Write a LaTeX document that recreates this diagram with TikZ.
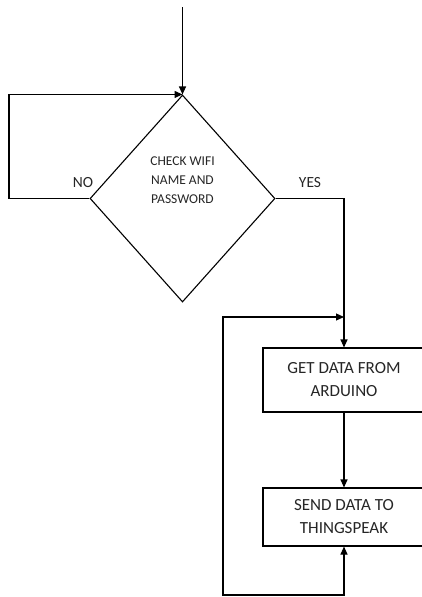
\documentclass[tikz,border=0pt]{standalone}
\usepackage{fontspec}
\setmainfont{Carlito}
\usetikzlibrary{shapes.geometric,arrows.meta}
\begin{document}
\begin{tikzpicture}[x = 1pt, y = -1pt, > = {Triangle[length = 8pt, width = 7pt]},
    flow/.style = {line width = 1.1pt, ->},
    procbox/.style = {draw, line width = 1.1pt, minimum width = 162pt, minimum height = 64pt, align = center,
      font = \fontsize{17}{23}\selectfont, text = black!85}]
    \useasboundingbox (0,0) rectangle (422,597);
    \node [diamond, draw, line width = 1.1pt, minimum width = 185pt, minimum height = 207pt, inner sep = 0pt] (chk) at (182.5,198.5) {};
    \node [align = center, font = \fontsize{13.5}{19}\selectfont, text = black!85] (chktxt) at (182.5,180) {CHECK WIFI\\NAME AND\\PASSWORD};
    \node [font = \fontsize{15.5}{18}\selectfont, text = black!85] (no) at (83,183) {NO};
    \node [font = \fontsize{15.5}{18}\selectfont, text = black!85] (yes) at (310,183) {YES};
    \node [procbox] (get) at (344,380) {GET DATA FROM\\ARDUINO};
    \node [procbox, minimum height = 58pt] (send) at (344,517) {SEND DATA TO\\THINGSPEAK};
    \coordinate (start) at (182.5,7);
    \coordinate (noleft) at (9,198.5);
    \coordinate (loopin) at (344,317);
    \coordinate (loopbot) at (223,595);
    \draw [flow] (start) -- (chk.north);
    \draw [flow] (chk.west) -- (noleft) |- (chk.north);
    \draw [flow] (chk.east) -| (get.north);
    \draw [flow] (get.south) -- (send.north);
    \draw [flow, <->] (loopin) -| (loopbot) -| (send.south);
  \end{tikzpicture}
\end{document}
